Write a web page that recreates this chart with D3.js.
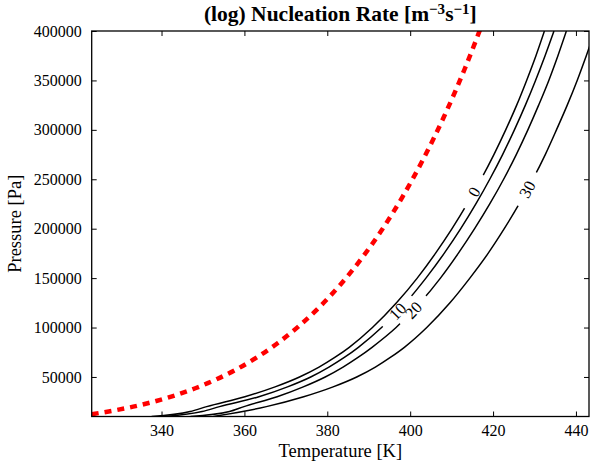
<!DOCTYPE html>
<html><head><meta charset="utf-8">
<script src="https://cdn.jsdelivr.net/npm/d3@7/dist/d3.min.js"></script>
<style>body{margin:0;background:#fff} svg{display:block}</style>
</head><body>
<svg id="c" width="590" height="465"></svg>
<script>
// ---- data ----
const pressureLevels = [10000,15000,20000,30000,40000,50000,60000,70000,80000,100000,125000,150000,175000,200000,225000,250000,275000,300000,325000,350000,375000,400000];
const temps0  = [337.6,346.9,350.9,360.1,367.4,373.3,378.0,381.9,385.3,390.9,396.7,401.7,406.1,410.1,413.75,417.1,420.2,423.05,425.7,428.1,430.35,432.4];
const temps10 = [340.5,349.8,354.0,363.5,370.4,376.0,380.4,384.2,387.5,393.1,398.9,403.8,408.2,412.2,415.85,419.2,422.3,425.15,427.8,430.25,432.55,434.7];
const temps20 = [347.0,356.4,359.9,367.9,374.2,379.5,383.8,387.5,390.8,396.6,402.4,407.3,411.6,415.55,419.2,422.55,425.6,428.4,431.0,433.45,435.65,437.7];
const temps30 = [352.5,359.6,365.3,374.3,381.4,387.1,391.6,395.3,398.6,404.0,409.6,414.4,418.8,422.7,426.3,429.6,432.6,435.3,437.9,440.3,442.5,444.6];
const contourLabels = ["0","10","20","30"];
const labelTemps = [415.4, 397.0, 400.8, 428.3];

const satTemps = [323.15,328.15,333.15,338.15,343.15,348.15,353.15,358.15,363.15,368.15,373.15,378.15,383.15,388.15,393.15,398.15,403.15,408.15,413.15,418.15];
const satPressures = [12352,15763,19947,25043,31202,38597,47416,57868,70183,84609,101420,120900,143380,169180,198670,232240,270280,313230,361540,415680];

const xTicks = [340,360,380,400,420,440];
const yTicks = [50000,100000,150000,200000,250000,300000,350000,400000];
const xDomain = [323.15, 443.15];
const yDomain = [10000, 400000];

// ---- layout ----
const W = 590, H = 465;
const L = 91.7, R = 589, T = 31, B = 416.5;
const FONT = "'Liberation Serif', 'Times New Roman', serif";

const x = d3.scaleLinear().domain(xDomain).range([L, R]);
const y = d3.scaleLinear().domain(yDomain).range([B, T]);

const svg = d3.select('#c');
const defs = svg.append('defs');
defs.append('clipPath').attr('id', 'plot').append('rect')
  .attr('x', L).attr('y', T).attr('width', R - L).attr('height', B - T);

const plot = svg.append('g').attr('clip-path', 'url(#plot)');
const line = d3.line().x(d => x(d[0])).y(d => y(d[1])).curve(d3.curveMonotoneX);

// contours
const contours = [temps0, temps10, temps20, temps30];
const labelLayer = svg.append('g');
contours.forEach((ts, i) => {
  const pts = ts.map((t, j) => [t, pressureLevels[j]]);
  const path = plot.append('path').datum(pts).attr('d', line)
    .attr('fill', 'none').attr('stroke', '#000').attr('stroke-width', 1.5);
  const node = path.node();
  const len = node.getTotalLength();
  const tx = x(labelTemps[i]);
  let best = 0, bd = 1e9;
  for (let s = 0; s <= len; s += 0.5) {
    const p = node.getPointAtLength(s);
    const d = Math.abs(p.x - tx);
    if (d < bd) { bd = d; best = s; }
  }
  const p = node.getPointAtLength(best);
  const p1 = node.getPointAtLength(Math.max(0, best - 4));
  const p2 = node.getPointAtLength(Math.min(len, best + 4));
  const ang = Math.atan2(p2.y - p1.y, p2.x - p1.x) * 180 / Math.PI;
  const gap = contourLabels[i] === "10" ? 42 : 38;
  const m = defs.append('mask').attr('id', 'm' + i).attr('maskUnits', 'userSpaceOnUse')
    .attr('x', 0).attr('y', 0).attr('width', W).attr('height', H);
  m.append('rect').attr('width', W).attr('height', H).attr('fill', '#fff');
  m.append('rect').attr('x', -gap / 2).attr('y', -6).attr('width', gap).attr('height', 12)
    .attr('fill', '#000').attr('transform', `translate(${p.x},${p.y}) rotate(${ang})`);
  path.attr('mask', `url(#m${i})`);
  labelLayer.append('text')
    .attr('transform', `translate(${p.x},${p.y}) rotate(${ang})`)
    .attr('text-anchor', 'middle').attr('dominant-baseline', 'central')
    .attr('font-family', FONT).attr('font-size', 16.5).attr('fill', '#000')
    .text(contourLabels[i]);
});

// saturation curve (red dotted)
plot.append('path').datum(d3.zip(satTemps, satPressures)).attr('d', line)
  .attr('fill', 'none').attr('stroke', '#ff0000').attr('stroke-width', 4.5)
  .attr('stroke-dasharray', '7,6');

// axes (inward ticks on all sides)
const ax = svg.append('g').attr('font-family', FONT);
const axBottom = ax.append('g').attr('transform', `translate(0,${B})`)
  .call(d3.axisBottom(x).tickValues(xTicks).tickSizeInner(-5).tickSizeOuter(0).tickPadding(8).tickFormat(d3.format('d')));
const axTop = ax.append('g').attr('transform', `translate(0,${T})`)
  .call(d3.axisTop(x).tickValues(xTicks).tickSizeInner(-5).tickSizeOuter(0).tickFormat(''));
const axLeft = ax.append('g').attr('transform', `translate(${L},0)`)
  .call(d3.axisLeft(y).tickValues(yTicks).tickSizeInner(-5).tickSizeOuter(0).tickPadding(10).tickFormat(d3.format('d')));
const axRight = ax.append('g').attr('transform', `translate(${R},0)`)
  .call(d3.axisRight(y).tickValues(yTicks).tickSizeInner(-5).tickSizeOuter(0).tickFormat(''));
[axBottom, axTop, axLeft, axRight].forEach(a => {
  a.select('.domain').remove();
  a.selectAll('line').attr('stroke', '#000').attr('stroke-width', 1);
  a.selectAll('text').attr('font-size', 16).attr('fill', '#000').attr('font-family', FONT);
});

// spines
svg.append('rect').attr('x', L).attr('y', T).attr('width', R - L).attr('height', B - T)
  .attr('fill', 'none').attr('stroke', '#000').attr('stroke-width', 1.3);

// title
const title = svg.append('text').attr('x', (L + R) / 2).attr('y', 21)
  .attr('text-anchor', 'middle').attr('font-family', FONT).attr('font-weight', 'bold')
  .attr('font-size', 21.5).attr('fill', '#000');
title.append('tspan').text('(log) Nucleation Rate [m');
title.append('tspan').attr('dy', -7.5).attr('font-size', 15).text('\u22123');
title.append('tspan').attr('dy', 7.5).text('s');
title.append('tspan').attr('dy', -7.5).attr('font-size', 15).text('\u22121');
title.append('tspan').attr('dy', 7.5).text(']');

// axis labels
svg.append('text').attr('x', (L + R) / 2).attr('y', 457).attr('text-anchor', 'middle')
  .attr('font-family', FONT).attr('font-size', 18.5).attr('fill', '#000').text('Temperature [K]');
svg.append('text').attr('transform', `translate(20.5,${(T + B) / 2}) rotate(-90)`)
  .attr('text-anchor', 'middle').attr('font-family', FONT).attr('font-size', 18.5).attr('fill', '#000')
  .text('Pressure [Pa]');
</script>
</body></html>
